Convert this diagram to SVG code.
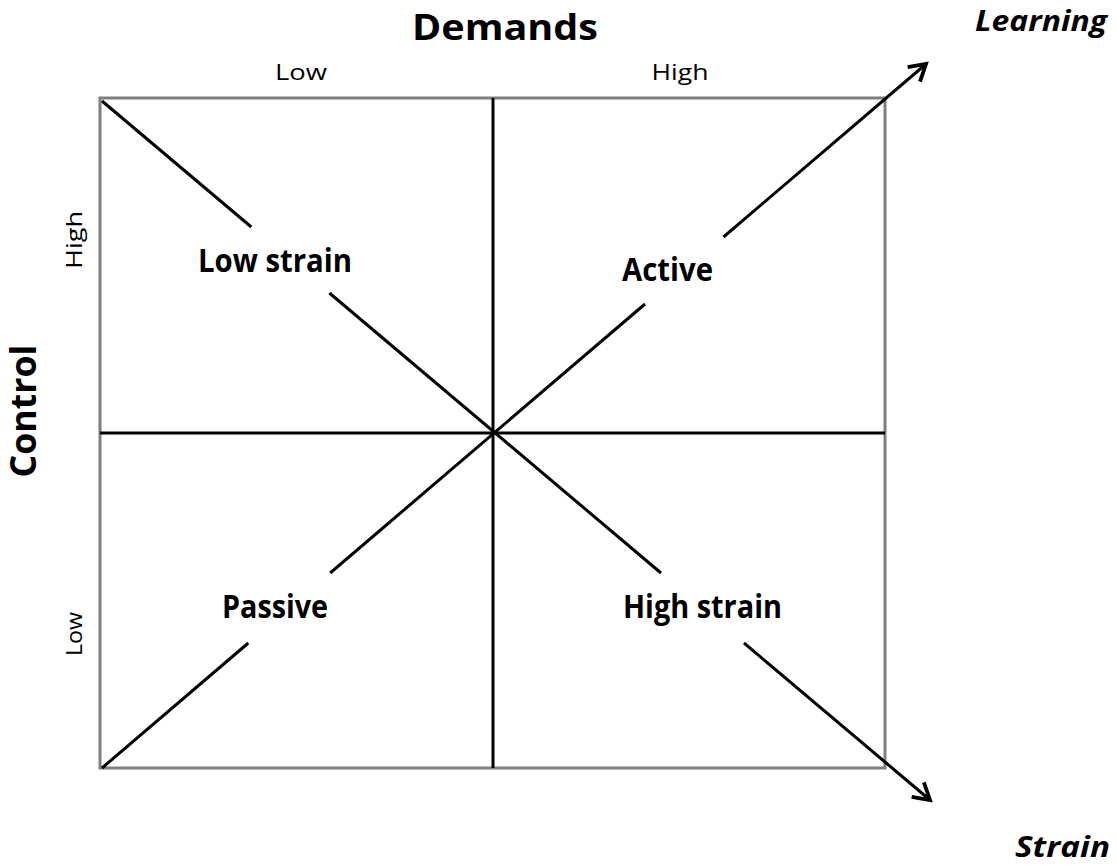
<svg xmlns="http://www.w3.org/2000/svg" width="1117" height="866" viewBox="0 0 1117 866">
  <style>
    text { font-family: "Open Sans", "Liberation Sans", sans-serif; fill: #000; }
    .b { font-weight: bold; }
    .bi { font-weight: bold; font-style: italic; }
    .frame { fill: none; stroke: #7f7f7f; stroke-width: 3; }
    .axis { stroke: #000; stroke-width: 3; fill: none; }
    .diag { stroke: #000; stroke-width: 3; fill: none; }
  </style>
  <defs>
    <marker id="arrow" viewBox="-22 -14 26 28" markerWidth="26" markerHeight="28" refX="0" refY="0" orient="auto" markerUnits="userSpaceOnUse">
      <path d="M-16,-9.5 L0,0 L-16,9.5" fill="none" stroke="#000" stroke-width="3.8" stroke-linejoin="miter"/>
    </marker>
  </defs>
  <rect width="1117" height="866" fill="#fff"/>

  <g id="grid">
    <rect class="frame" x="100" y="98" width="785" height="670"/>
    <line class="axis" x1="493" y1="98" x2="493" y2="768"/>
    <line class="axis" x1="100" y1="433" x2="885" y2="433"/>
  </g>

  <g id="connectors">
    <line class="diag" x1="102" y1="101" x2="251.3" y2="227"/>
    <line class="diag" x1="329.4" y1="293" x2="661" y2="573"/>
    <line class="diag" x1="744" y1="643" x2="930" y2="800" marker-end="url(#arrow)"/>
    <line class="diag" x1="102" y1="768" x2="248.3" y2="643"/>
    <line class="diag" x1="330.2" y1="573" x2="645" y2="304"/>
    <line class="diag" x1="723.5" y1="237" x2="926" y2="64" marker-end="url(#arrow)"/>
  </g>

  <g id="axis-labels">
    <text class="b" x="505" y="40" font-size="36" text-anchor="middle" textLength="186" lengthAdjust="spacingAndGlyphs">Demands</text>
    <text x="301" y="80" font-size="22" text-anchor="middle" textLength="52" lengthAdjust="spacingAndGlyphs">Low</text>
    <text x="680" y="80" font-size="22" text-anchor="middle" textLength="57" lengthAdjust="spacingAndGlyphs">High</text>
    <text class="b" transform="translate(36,411) rotate(-90)" font-size="36" text-anchor="middle" textLength="133" lengthAdjust="spacingAndGlyphs">Control</text>
    <text transform="translate(82,240) rotate(-90)" font-size="22" text-anchor="middle" textLength="58" lengthAdjust="spacingAndGlyphs">High</text>
    <text transform="translate(82,634) rotate(-90)" font-size="22" text-anchor="middle" textLength="44" lengthAdjust="spacingAndGlyphs">Low</text>
    <text class="bi" x="975" y="31" font-size="28" textLength="132" lengthAdjust="spacingAndGlyphs">Learning</text>
    <text class="bi" x="1015" y="857" font-size="29" textLength="95" lengthAdjust="spacingAndGlyphs">Strain</text>
  </g>

  <g id="low-strain">
    <text class="b" x="198" y="272" font-size="33" textLength="154" lengthAdjust="spacingAndGlyphs">Low strain</text>
  </g>
  <g id="active">
    <text class="b" x="622" y="281" font-size="33" textLength="91" lengthAdjust="spacingAndGlyphs">Active</text>
  </g>
  <g id="passive">
    <text class="b" x="222" y="618" font-size="33" textLength="106" lengthAdjust="spacingAndGlyphs">Passive</text>
  </g>
  <g id="high-strain">
    <text class="b" x="623" y="618" font-size="33" textLength="159" lengthAdjust="spacingAndGlyphs">High strain</text>
  </g>
</svg>
